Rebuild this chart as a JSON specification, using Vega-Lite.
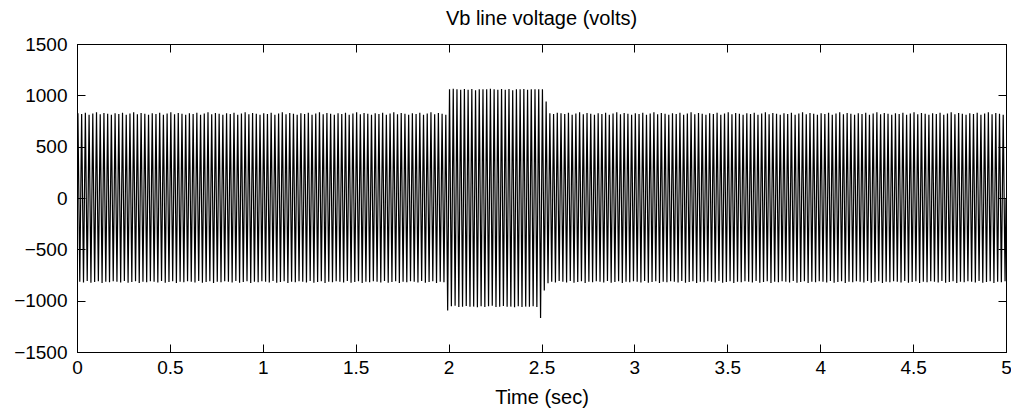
{
"$schema":"https://vega.github.io/schema/vega-lite/v6.json",
"width":929,"height":308,
"autosize":{"type":"none"},
"padding":{"left":77,"top":44,"right":5,"bottom":64},
"background":"white",
"config":{"view":{"stroke":"black","strokeWidth":1},"font":"Liberation Sans"},
"title":{"text":"Vb line voltage (volts)","fontSize":20,"fontWeight":"normal","font":"Liberation Sans","color":"black","baseline":"bottom","offset":-14,"anchor":"middle"},
"layer":[
{"data":{"values":[
{"t":0,"v":0},
{"t":0.005,"v":825},{"t":0.015,"v":-815},{"t":0.025,"v":818},{"t":0.035,"v":-822},{"t":0.045,"v":830},{"t":0.055,"v":-808},{"t":0.065,"v":812},{"t":0.075,"v":-825},{"t":0.085,"v":822},{"t":0.095,"v":-818},
{"t":0.105,"v":835},{"t":0.115,"v":-812},{"t":0.125,"v":815},{"t":0.135,"v":-828},{"t":0.145,"v":828},{"t":0.155,"v":-816},{"t":0.165,"v":820},{"t":0.175,"v":-820},{"t":0.185,"v":810},{"t":0.195,"v":-810},
{"t":0.205,"v":825},{"t":0.215,"v":-815},{"t":0.225,"v":818},{"t":0.235,"v":-822},{"t":0.245,"v":830},{"t":0.255,"v":-808},{"t":0.265,"v":812},{"t":0.275,"v":-825},{"t":0.285,"v":822},{"t":0.295,"v":-818},
{"t":0.305,"v":835},{"t":0.315,"v":-812},{"t":0.325,"v":815},{"t":0.335,"v":-828},{"t":0.345,"v":828},{"t":0.355,"v":-816},{"t":0.365,"v":820},{"t":0.375,"v":-820},{"t":0.385,"v":810},{"t":0.395,"v":-810},
{"t":0.405,"v":825},{"t":0.415,"v":-815},{"t":0.425,"v":818},{"t":0.435,"v":-822},{"t":0.445,"v":830},{"t":0.455,"v":-808},{"t":0.465,"v":812},{"t":0.475,"v":-825},{"t":0.485,"v":822},{"t":0.495,"v":-818},
{"t":0.505,"v":835},{"t":0.515,"v":-812},{"t":0.525,"v":815},{"t":0.535,"v":-828},{"t":0.545,"v":828},{"t":0.555,"v":-816},{"t":0.565,"v":820},{"t":0.575,"v":-820},{"t":0.585,"v":810},{"t":0.595,"v":-810},
{"t":0.605,"v":825},{"t":0.615,"v":-815},{"t":0.625,"v":818},{"t":0.635,"v":-822},{"t":0.645,"v":830},{"t":0.655,"v":-808},{"t":0.665,"v":812},{"t":0.675,"v":-825},{"t":0.685,"v":822},{"t":0.695,"v":-818},
{"t":0.705,"v":835},{"t":0.715,"v":-812},{"t":0.725,"v":815},{"t":0.735,"v":-828},{"t":0.745,"v":828},{"t":0.755,"v":-816},{"t":0.765,"v":820},{"t":0.775,"v":-820},{"t":0.785,"v":810},{"t":0.795,"v":-810},
{"t":0.805,"v":825},{"t":0.815,"v":-815},{"t":0.825,"v":818},{"t":0.835,"v":-822},{"t":0.845,"v":830},{"t":0.855,"v":-808},{"t":0.865,"v":812},{"t":0.875,"v":-825},{"t":0.885,"v":822},{"t":0.895,"v":-818},
{"t":0.905,"v":835},{"t":0.915,"v":-812},{"t":0.925,"v":815},{"t":0.935,"v":-828},{"t":0.945,"v":828},{"t":0.955,"v":-816},{"t":0.965,"v":820},{"t":0.975,"v":-820},{"t":0.985,"v":810},{"t":0.995,"v":-810},
{"t":1.005,"v":825},{"t":1.015,"v":-815},{"t":1.025,"v":818},{"t":1.035,"v":-822},{"t":1.045,"v":830},{"t":1.055,"v":-808},{"t":1.065,"v":812},{"t":1.075,"v":-825},{"t":1.085,"v":822},{"t":1.095,"v":-818},
{"t":1.105,"v":835},{"t":1.115,"v":-812},{"t":1.125,"v":815},{"t":1.135,"v":-828},{"t":1.145,"v":828},{"t":1.155,"v":-816},{"t":1.165,"v":820},{"t":1.175,"v":-820},{"t":1.185,"v":810},{"t":1.195,"v":-810},
{"t":1.205,"v":825},{"t":1.215,"v":-815},{"t":1.225,"v":818},{"t":1.235,"v":-822},{"t":1.245,"v":830},{"t":1.255,"v":-808},{"t":1.265,"v":812},{"t":1.275,"v":-825},{"t":1.285,"v":822},{"t":1.295,"v":-818},
{"t":1.305,"v":835},{"t":1.315,"v":-812},{"t":1.325,"v":815},{"t":1.335,"v":-828},{"t":1.345,"v":828},{"t":1.355,"v":-816},{"t":1.365,"v":820},{"t":1.375,"v":-820},{"t":1.385,"v":810},{"t":1.395,"v":-810},
{"t":1.405,"v":825},{"t":1.415,"v":-815},{"t":1.425,"v":818},{"t":1.435,"v":-822},{"t":1.445,"v":830},{"t":1.455,"v":-808},{"t":1.465,"v":812},{"t":1.475,"v":-825},{"t":1.485,"v":822},{"t":1.495,"v":-818},
{"t":1.505,"v":835},{"t":1.515,"v":-812},{"t":1.525,"v":815},{"t":1.535,"v":-828},{"t":1.545,"v":828},{"t":1.555,"v":-816},{"t":1.565,"v":820},{"t":1.575,"v":-820},{"t":1.585,"v":810},{"t":1.595,"v":-810},
{"t":1.605,"v":825},{"t":1.615,"v":-815},{"t":1.625,"v":818},{"t":1.635,"v":-822},{"t":1.645,"v":830},{"t":1.655,"v":-808},{"t":1.665,"v":812},{"t":1.675,"v":-825},{"t":1.685,"v":822},{"t":1.695,"v":-818},
{"t":1.705,"v":835},{"t":1.715,"v":-812},{"t":1.725,"v":815},{"t":1.735,"v":-828},{"t":1.745,"v":828},{"t":1.755,"v":-816},{"t":1.765,"v":820},{"t":1.775,"v":-820},{"t":1.785,"v":810},{"t":1.795,"v":-810},
{"t":1.805,"v":825},{"t":1.815,"v":-815},{"t":1.825,"v":818},{"t":1.835,"v":-822},{"t":1.845,"v":830},{"t":1.855,"v":-808},{"t":1.865,"v":812},{"t":1.875,"v":-825},{"t":1.885,"v":822},{"t":1.895,"v":-818},
{"t":1.905,"v":835},{"t":1.915,"v":-812},{"t":1.925,"v":815},{"t":1.935,"v":-828},{"t":1.945,"v":828},{"t":1.955,"v":-816},{"t":1.965,"v":820},{"t":1.975,"v":-820},{"t":1.985,"v":810},{"t":1.995,"v":-1095},
{"t":2.005,"v":1060},{"t":2.015,"v":-1055},{"t":2.025,"v":1065},{"t":2.035,"v":-1050},{"t":2.045,"v":1058},{"t":2.055,"v":-1062},{"t":2.065,"v":1055},{"t":2.075,"v":-1060},{"t":2.085,"v":1062},{"t":2.095,"v":-1052},
{"t":2.105,"v":1055},{"t":2.115,"v":-1060},{"t":2.125,"v":1062},{"t":2.135,"v":-1058},{"t":2.145,"v":1050},{"t":2.155,"v":-1065},{"t":2.165,"v":1060},{"t":2.175,"v":-1055},{"t":2.185,"v":1058},{"t":2.195,"v":-1062},
{"t":2.205,"v":1060},{"t":2.215,"v":-1055},{"t":2.225,"v":1065},{"t":2.235,"v":-1050},{"t":2.245,"v":1058},{"t":2.255,"v":-1062},{"t":2.265,"v":1055},{"t":2.275,"v":-1060},{"t":2.285,"v":1062},{"t":2.295,"v":-1052},
{"t":2.305,"v":1055},{"t":2.315,"v":-1060},{"t":2.325,"v":1062},{"t":2.335,"v":-1058},{"t":2.345,"v":1050},{"t":2.355,"v":-1065},{"t":2.365,"v":1060},{"t":2.375,"v":-1055},{"t":2.385,"v":1058},{"t":2.395,"v":-1062},
{"t":2.405,"v":1062},{"t":2.415,"v":-1058},{"t":2.425,"v":1055},{"t":2.435,"v":-1060},{"t":2.445,"v":1060},{"t":2.455,"v":-1055},{"t":2.465,"v":1058},{"t":2.475,"v":-1062},{"t":2.485,"v":1060},{"t":2.495,"v":-1170},
{"t":2.505,"v":1060},{"t":2.515,"v":-900},{"t":2.525,"v":940},{"t":2.535,"v":-830},{"t":2.545,"v":825},{"t":2.555,"v":-815},{"t":2.565,"v":818},{"t":2.575,"v":-822},{"t":2.585,"v":830},{"t":2.595,"v":-808},
{"t":2.605,"v":825},{"t":2.615,"v":-815},{"t":2.625,"v":818},{"t":2.635,"v":-822},{"t":2.645,"v":830},{"t":2.655,"v":-808},{"t":2.665,"v":812},{"t":2.675,"v":-825},{"t":2.685,"v":822},{"t":2.695,"v":-818},
{"t":2.705,"v":835},{"t":2.715,"v":-812},{"t":2.725,"v":815},{"t":2.735,"v":-828},{"t":2.745,"v":828},{"t":2.755,"v":-816},{"t":2.765,"v":820},{"t":2.775,"v":-820},{"t":2.785,"v":810},{"t":2.795,"v":-810},
{"t":2.805,"v":825},{"t":2.815,"v":-815},{"t":2.825,"v":818},{"t":2.835,"v":-822},{"t":2.845,"v":830},{"t":2.855,"v":-808},{"t":2.865,"v":812},{"t":2.875,"v":-825},{"t":2.885,"v":822},{"t":2.895,"v":-818},
{"t":2.905,"v":835},{"t":2.915,"v":-812},{"t":2.925,"v":815},{"t":2.935,"v":-828},{"t":2.945,"v":828},{"t":2.955,"v":-816},{"t":2.965,"v":820},{"t":2.975,"v":-820},{"t":2.985,"v":810},{"t":2.995,"v":-810},
{"t":3.005,"v":825},{"t":3.015,"v":-815},{"t":3.025,"v":818},{"t":3.035,"v":-822},{"t":3.045,"v":830},{"t":3.055,"v":-808},{"t":3.065,"v":812},{"t":3.075,"v":-825},{"t":3.085,"v":822},{"t":3.095,"v":-818},
{"t":3.105,"v":835},{"t":3.115,"v":-812},{"t":3.125,"v":815},{"t":3.135,"v":-828},{"t":3.145,"v":828},{"t":3.155,"v":-816},{"t":3.165,"v":820},{"t":3.175,"v":-820},{"t":3.185,"v":810},{"t":3.195,"v":-810},
{"t":3.205,"v":825},{"t":3.215,"v":-815},{"t":3.225,"v":818},{"t":3.235,"v":-822},{"t":3.245,"v":830},{"t":3.255,"v":-808},{"t":3.265,"v":812},{"t":3.275,"v":-825},{"t":3.285,"v":822},{"t":3.295,"v":-818},
{"t":3.305,"v":835},{"t":3.315,"v":-812},{"t":3.325,"v":815},{"t":3.335,"v":-828},{"t":3.345,"v":828},{"t":3.355,"v":-816},{"t":3.365,"v":820},{"t":3.375,"v":-820},{"t":3.385,"v":810},{"t":3.395,"v":-810},
{"t":3.405,"v":825},{"t":3.415,"v":-815},{"t":3.425,"v":818},{"t":3.435,"v":-822},{"t":3.445,"v":830},{"t":3.455,"v":-808},{"t":3.465,"v":812},{"t":3.475,"v":-825},{"t":3.485,"v":822},{"t":3.495,"v":-818},
{"t":3.505,"v":835},{"t":3.515,"v":-812},{"t":3.525,"v":815},{"t":3.535,"v":-828},{"t":3.545,"v":828},{"t":3.555,"v":-816},{"t":3.565,"v":820},{"t":3.575,"v":-820},{"t":3.585,"v":810},{"t":3.595,"v":-810},
{"t":3.605,"v":825},{"t":3.615,"v":-815},{"t":3.625,"v":818},{"t":3.635,"v":-822},{"t":3.645,"v":830},{"t":3.655,"v":-808},{"t":3.665,"v":812},{"t":3.675,"v":-825},{"t":3.685,"v":822},{"t":3.695,"v":-818},
{"t":3.705,"v":835},{"t":3.715,"v":-812},{"t":3.725,"v":815},{"t":3.735,"v":-828},{"t":3.745,"v":828},{"t":3.755,"v":-816},{"t":3.765,"v":820},{"t":3.775,"v":-820},{"t":3.785,"v":810},{"t":3.795,"v":-810},
{"t":3.805,"v":825},{"t":3.815,"v":-815},{"t":3.825,"v":818},{"t":3.835,"v":-822},{"t":3.845,"v":830},{"t":3.855,"v":-808},{"t":3.865,"v":812},{"t":3.875,"v":-825},{"t":3.885,"v":822},{"t":3.895,"v":-818},
{"t":3.905,"v":835},{"t":3.915,"v":-812},{"t":3.925,"v":815},{"t":3.935,"v":-828},{"t":3.945,"v":828},{"t":3.955,"v":-816},{"t":3.965,"v":820},{"t":3.975,"v":-820},{"t":3.985,"v":810},{"t":3.995,"v":-810},
{"t":4.005,"v":825},{"t":4.015,"v":-815},{"t":4.025,"v":818},{"t":4.035,"v":-822},{"t":4.045,"v":830},{"t":4.055,"v":-808},{"t":4.065,"v":812},{"t":4.075,"v":-825},{"t":4.085,"v":822},{"t":4.095,"v":-818},
{"t":4.105,"v":835},{"t":4.115,"v":-812},{"t":4.125,"v":815},{"t":4.135,"v":-828},{"t":4.145,"v":828},{"t":4.155,"v":-816},{"t":4.165,"v":820},{"t":4.175,"v":-820},{"t":4.185,"v":810},{"t":4.195,"v":-810},
{"t":4.205,"v":825},{"t":4.215,"v":-815},{"t":4.225,"v":818},{"t":4.235,"v":-822},{"t":4.245,"v":830},{"t":4.255,"v":-808},{"t":4.265,"v":812},{"t":4.275,"v":-825},{"t":4.285,"v":822},{"t":4.295,"v":-818},
{"t":4.305,"v":835},{"t":4.315,"v":-812},{"t":4.325,"v":815},{"t":4.335,"v":-828},{"t":4.345,"v":828},{"t":4.355,"v":-816},{"t":4.365,"v":820},{"t":4.375,"v":-820},{"t":4.385,"v":810},{"t":4.395,"v":-810},
{"t":4.405,"v":825},{"t":4.415,"v":-815},{"t":4.425,"v":818},{"t":4.435,"v":-822},{"t":4.445,"v":830},{"t":4.455,"v":-808},{"t":4.465,"v":812},{"t":4.475,"v":-825},{"t":4.485,"v":822},{"t":4.495,"v":-818},
{"t":4.505,"v":835},{"t":4.515,"v":-812},{"t":4.525,"v":815},{"t":4.535,"v":-828},{"t":4.545,"v":828},{"t":4.555,"v":-816},{"t":4.565,"v":820},{"t":4.575,"v":-820},{"t":4.585,"v":810},{"t":4.595,"v":-810},
{"t":4.605,"v":825},{"t":4.615,"v":-815},{"t":4.625,"v":818},{"t":4.635,"v":-822},{"t":4.645,"v":830},{"t":4.655,"v":-808},{"t":4.665,"v":812},{"t":4.675,"v":-825},{"t":4.685,"v":822},{"t":4.695,"v":-818},
{"t":4.705,"v":835},{"t":4.715,"v":-812},{"t":4.725,"v":815},{"t":4.735,"v":-828},{"t":4.745,"v":828},{"t":4.755,"v":-816},{"t":4.765,"v":820},{"t":4.775,"v":-820},{"t":4.785,"v":810},{"t":4.795,"v":-810},
{"t":4.805,"v":825},{"t":4.815,"v":-815},{"t":4.825,"v":818},{"t":4.835,"v":-822},{"t":4.845,"v":830},{"t":4.855,"v":-808},{"t":4.865,"v":812},{"t":4.875,"v":-825},{"t":4.885,"v":822},{"t":4.895,"v":-818},
{"t":4.905,"v":835},{"t":4.915,"v":-812},{"t":4.925,"v":815},{"t":4.935,"v":-828},{"t":4.945,"v":828},{"t":4.955,"v":-816},{"t":4.965,"v":820},{"t":4.975,"v":-820},{"t":4.985,"v":810},{"t":4.995,"v":-810},
{"t":5,"v":0}
]},
"mark":{"type":"line","color":"black","strokeWidth":1.2,"clip":true},
"encoding":{
"x":{"field":"t","type":"quantitative","scale":{"domain":[0,5],"nice":false,"zero":false},
"axis":{"orient":"bottom","values":[0,0.5,1,1.5,2,2.5,3,3.5,4,4.5,5],"format":"~g","grid":false,"title":"Time (sec)","titleFont":"Liberation Sans","titleFontSize":20,"titleFontWeight":"normal","titleColor":"black","titlePadding":10,"labelFont":"Liberation Sans","labelFontSize":19,"labelColor":"black","labelPadding":14,"tickSize":-8,"tickColor":"black","domainColor":"black","labelFlush":false,"labelOverlap":false}},
"y":{"field":"v","type":"quantitative","scale":{"domain":[-1500,1500],"nice":false,"zero":false},
"axis":{"orient":"left","values":[-1500,-1000,-500,0,500,1000,1500],"format":"d","grid":false,"title":null,"labelFont":"Liberation Sans","labelFontSize":19,"labelColor":"black","labelPadding":18,"tickSize":-8,"tickColor":"black","domainColor":"black","labelFlush":false,"labelOverlap":false}}
}},
{"data":{"values":[{"t":0,"v":0}]},
"mark":{"type":"point","opacity":0},
"encoding":{
"x":{"field":"t","type":"quantitative","scale":{"domain":[0,5],"nice":false,"zero":false},
"axis":{"orient":"top","values":[0,0.5,1,1.5,2,2.5,3,3.5,4,4.5,5],"labels":false,"grid":false,"title":null,"tickSize":-8,"tickColor":"black","domainColor":"black"}},
"y":{"field":"v","type":"quantitative","scale":{"domain":[-1500,1500],"nice":false,"zero":false},
"axis":{"orient":"right","values":[-1500,-1000,-500,0,500,1000,1500],"labels":false,"grid":false,"title":null,"tickSize":-8,"tickColor":"black","domainColor":"black"}}
}}
],
"resolve":{"axis":{"x":"independent","y":"independent"}}
}
